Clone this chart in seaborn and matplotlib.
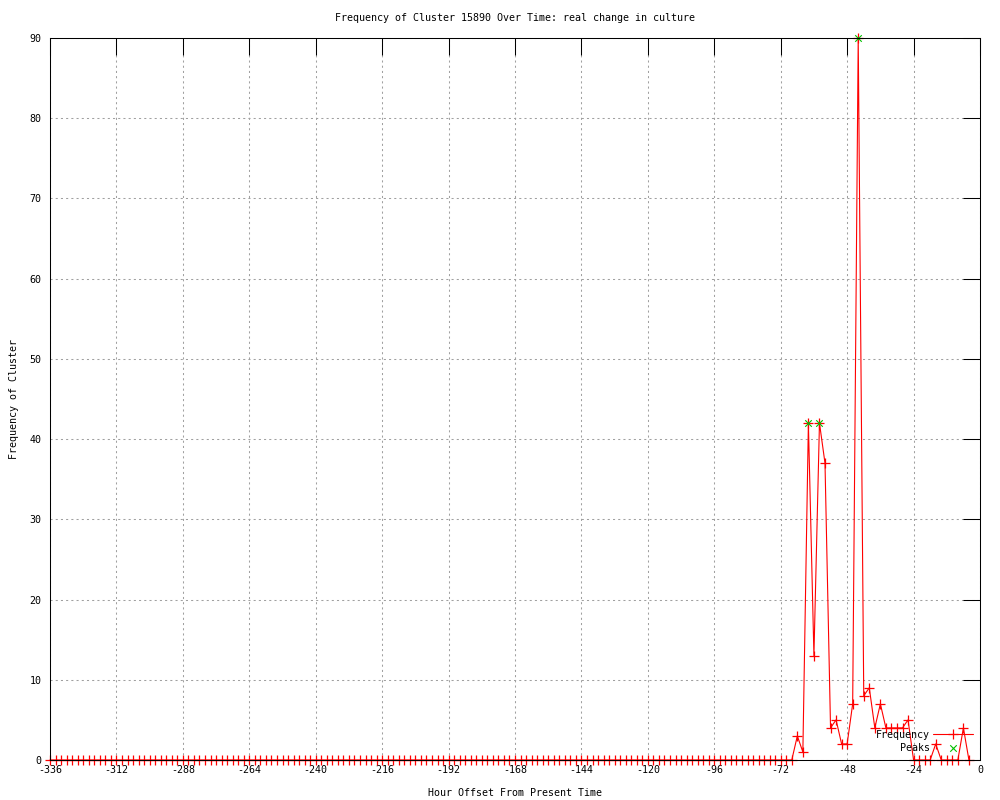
import matplotlib
matplotlib.use("Agg")
import matplotlib.pyplot as plt
import seaborn as sns
import pandas as pd

# ---- data (every 2 hours, -336 .. -4) ----
hours = list(range(-336, -2, 2))
frequency = [
    0, 0, 0, 0, 0, 0, 0, 0, 0, 0, 0, 0, 0, 0, 0,
    0, 0, 0, 0, 0, 0, 0, 0, 0, 0, 0, 0, 0, 0, 0,
    0, 0, 0, 0, 0, 0, 0, 0, 0, 0, 0, 0, 0, 0, 0,
    0, 0, 0, 0, 0, 0, 0, 0, 0, 0, 0, 0, 0, 0, 0,
    0, 0, 0, 0, 0, 0, 0, 0, 0, 0, 0, 0, 0, 0, 0,
    0, 0, 0, 0, 0, 0, 0, 0, 0, 0, 0, 0, 0, 0, 0,
    0, 0, 0, 0, 0, 0, 0, 0, 0, 0, 0, 0, 0, 0, 0,
    0, 0, 0, 0, 0, 0, 0, 0, 0, 0, 0, 0, 0, 0, 0,
    0, 0, 0, 0, 0, 0, 0, 0, 0, 0, 0, 0, 0, 0, 0,   # up to -68
    3, 1, 42, 13, 42, 37, 4, 5, 2, 2, 7, 90, 8, 9, 4, 7,   # -66 .. -36
    4, 4, 4, 4, 5, 0, 0, 0, 0, 2, 0, 0, 0, 0, 4, 0,        # -34 .. -4
]
peak_hours = [-62, -58, -44]
peak_values = [42, 42, 90]

x_ticks = list(range(-336, 1, 24))
y_ticks = list(range(0, 91, 10))

df = pd.DataFrame({"Hour": hours, "Frequency": frequency})
peaks = pd.DataFrame({"Hour": peak_hours, "Frequency": peak_values})

# ---- style: old gnuplot look ----
sns.set_style("white")
plt.rcParams["font.family"] = ["DejaVu Sans Mono", "DejaVu Sans"]
plt.rcParams["axes.unicode_minus"] = False
plt.rcParams["text.color"] = "black"
plt.rcParams["axes.labelcolor"] = "black"
plt.rcParams["xtick.color"] = "black"
plt.rcParams["ytick.color"] = "black"

fig = plt.figure(figsize=(10, 8), dpi=100)
ax = fig.add_axes([0.05, 0.05, 0.93, 0.9025])

red = "#ff0000"
green = "#00c000"

sns.lineplot(ax=ax, data=df, x="Hour", y="Frequency", color=red,
             linewidth=0.8, marker="+", markersize=6.5, markeredgewidth=0.9,
             markeredgecolor=red, markerfacecolor=red,
             label="Frequency", clip_on=False, zorder=3)
sns.scatterplot(ax=ax, data=peaks, x="Hour", y="Frequency", color=green,
                marker="x", s=22, linewidth=0.8, label="Peaks",
                clip_on=False, zorder=4)

ax.set_xlim(-336, 0)
ax.set_ylim(0, 90)
ax.set_xticks(x_ticks)
ax.set_yticks(y_ticks)
ax.tick_params(direction="in", length=12, width=0.75, color="black",
               labelcolor="black", top=True, right=True, labelsize=7.2)
ax.tick_params(axis="x", pad=3.5)
ax.tick_params(axis="y", pad=6)
for s in ax.spines.values():
    s.set_color("black")
    s.set_linewidth(0.75)
    s.set_zorder(5)

# dotted grey grid like gnuplot's "set grid"
ax.grid(True, color="#a0a0a0", linestyle=(0, (2, 3)), linewidth=0.75)
ax.set_axisbelow(True)

ax.set_xlabel("Hour Offset From Present Time", fontsize=7.2)
ax.set_ylabel("Frequency of Cluster", fontsize=7.2)
ax.xaxis.set_label_coords(0.5, -0.0388)
ax.yaxis.set_label_coords(-0.0333, 0.5)

fig.text(0.515, 1 - 18 / 800, "Frequency of Cluster 15890 Over Time: real change in culture",
         ha="center", va="center", fontsize=7.2)

ax.legend(loc="lower right", bbox_to_anchor=(1.0, 0.0), frameon=False,
          markerfirst=False, fontsize=7.2, handlelength=4, borderaxespad=0.3,
          labelspacing=0.35, handletextpad=0.3)

fig.savefig("out.png", dpi=100)
